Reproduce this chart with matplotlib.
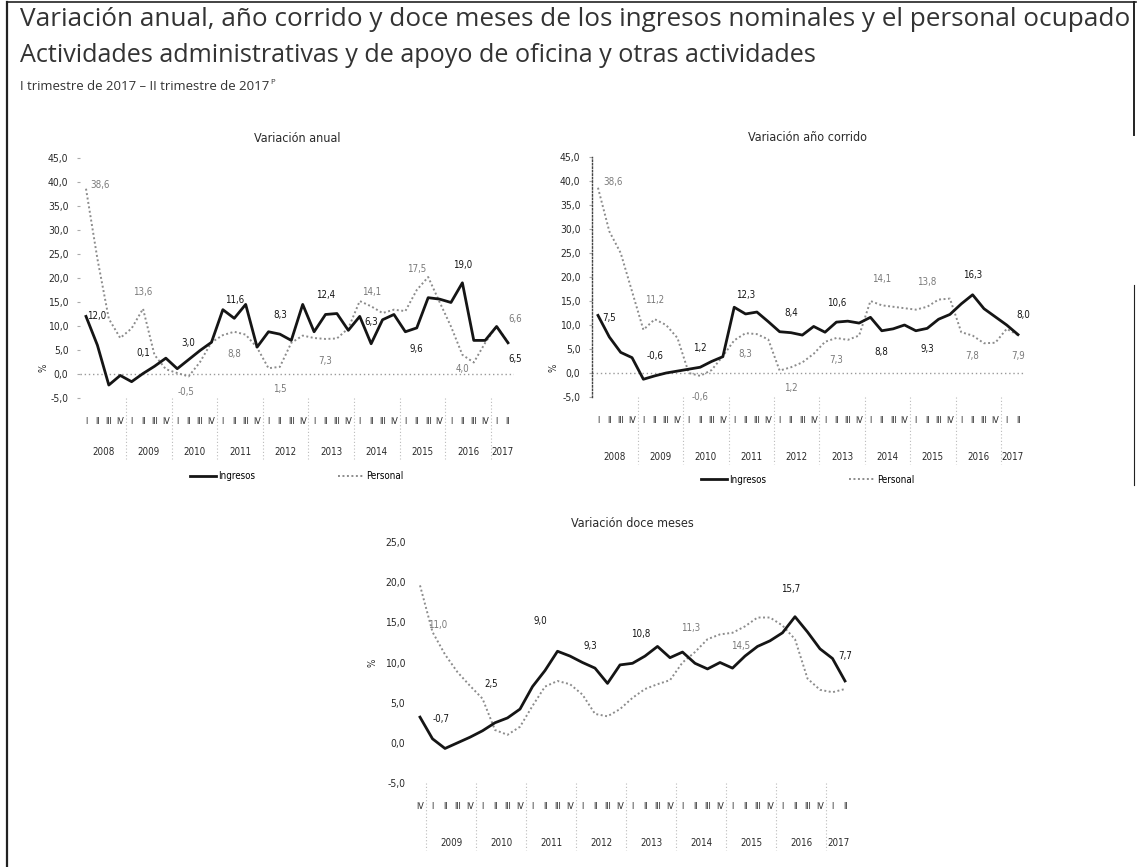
import matplotlib
matplotlib.use('Agg')
import matplotlib.pyplot as plt
import matplotlib.transforms as mtransforms
from matplotlib import font_manager
from matplotlib.lines import Line2D

# ---------------- data ----------------
quarters_a = ['I', 'II', 'III', 'IV'] * 9 + ['I', 'II']
years_a = ['2008', '2009', '2010', '2011', '2012', '2013', '2014', '2015', '2016', '2017']
year_counts_a = [4, 4, 4, 4, 4, 4, 4, 4, 4, 2]

ingresos_anual = [12.0, 6.0, -2.3, -0.3, -1.6, 0.1, 1.6, 3.3, 1.1, 3.0,
                  4.9, 6.6, 13.4, 11.6, 14.5, 5.6, 8.8, 8.3, 7.0, 14.5,
                  8.8, 12.4, 12.6, 9.1, 12.0, 6.3, 11.3, 12.4, 8.8, 9.6,
                  15.9, 15.6, 14.9, 19.0, 7.0, 7.0, 9.9, 6.5]
personal_anual = [38.6, 24.0, 11.5, 7.5, 9.5, 13.6, 4.0, 1.0, 0.2, -0.5,
                  2.5, 6.6, 8.1, 8.8, 8.2, 5.5, 1.2, 1.5, 6.5, 8.0,
                  7.5, 7.3, 7.4, 9.5, 15.2, 14.1, 12.7, 13.4, 13.1, 17.5,
                  20.2, 15.0, 9.9, 4.0, 2.4, 6.5, 10.0, 6.6]

ingresos_corrido = [12.0, 7.5, 4.3, 3.2, -1.3, -0.6, 0.0, 0.4, 0.8, 1.2,
                    2.4, 3.4, 13.7, 12.3, 12.7, 10.7, 8.6, 8.4, 7.9, 9.7,
                    8.5, 10.6, 10.8, 10.4, 11.6, 8.8, 9.2, 10.0, 8.8, 9.3,
                    11.2, 12.2, 14.4, 16.3, 13.4, 11.7, 10.0, 8.0]
personal_corrido = [38.6, 29.5, 25.0, 17.0, 9.0, 11.2, 10.0, 7.3, 0.0, -0.6,
                    0.6, 3.5, 6.8, 8.3, 8.1, 7.0, 0.5, 1.2, 2.2, 4.0,
                    6.5, 7.3, 6.9, 7.8, 15.0, 14.1, 13.8, 13.5, 13.2, 13.8,
                    15.3, 15.5, 8.5, 7.8, 6.2, 6.3, 9.2, 7.9]

quarters_d = ['IV'] + ['I', 'II', 'III', 'IV'] * 8 + ['I', 'II']
years_d = ['', '2009', '2010', '2011', '2012', '2013', '2014', '2015', '2016', '2017']
year_counts_d = [1, 4, 4, 4, 4, 4, 4, 4, 4, 2]

ingresos_doce = [3.2, 0.5, -0.7, 0.0, 0.7, 1.5, 2.5, 3.1, 4.2, 7.0,
                 9.0, 11.4, 10.8, 10.0, 9.3, 7.4, 9.7, 9.9, 10.8, 12.0,
                 10.6, 11.3, 9.9, 9.2, 10.0, 9.3, 10.8, 12.0, 12.7, 13.7,
                 15.7, 13.8, 11.7, 10.5, 7.7]
personal_doce = [19.6, 13.8, 11.0, 8.8, 7.1, 5.5, 1.6, 1.0, 2.0, 4.6,
                 7.0, 7.7, 7.3, 6.0, 3.6, 3.3, 4.2, 5.6, 6.7, 7.3,
                 7.8, 10.0, 11.3, 12.9, 13.5, 13.7, 14.5, 15.6, 15.6, 14.6,
                 12.9, 8.0, 6.6, 6.3, 6.7]

yticks_a = [-5, 0, 5, 10, 15, 20, 25, 30, 35, 40, 45]
yticks_d = [-5, 0, 5, 10, 15, 20, 25]

# data labels: (quarter index, text)
lab_ing_anual = [(0, '12,0'), (5, '0,1'), (9, '3,0'), (13, '11,6'), (17, '8,3'),
                 (21, '12,4'), (25, '6,3'), (29, '9,6'), (33, '19,0'), (37, '6,5')]
lab_per_anual = [(0, '38,6'), (5, '13,6'), (9, '-0,5'), (13, '8,8'), (17, '1,5'),
                 (21, '7,3'), (25, '14,1'), (29, '17,5'), (33, '4,0'), (37, '6,6')]
lab_ing_corrido = [(1, '7,5'), (5, '-0,6'), (9, '1,2'), (13, '12,3'), (17, '8,4'),
                   (21, '10,6'), (25, '8,8'), (29, '9,3'), (33, '16,3'), (37, '8,0')]
lab_per_corrido = [(0, '38,6'), (5, '11,2'), (9, '-0,6'), (13, '8,3'), (17, '1,2'),
                   (21, '7,3'), (25, '14,1'), (29, '13,8'), (33, '7,8'), (37, '7,9')]
lab_ing_doce = [(2, '-0,7'), (6, '2,5'), (10, '9,0'), (14, '9,3'), (18, '10,8'),
                (30, '15,7'), (34, '7,7')]
lab_per_doce = [(2, '11,0'), (22, '11,3'), (26, '14,5')]

# label offsets in points (style, not data)
off_ing_anual = [(8, 0), (0, 15), (0, 12), (0, 13), (0, 14), (0, 14), (0, 16), (0, -15), (0, 13), (5, -12)]
off_per_anual = [(10, 3), (0, 12), (-2, -11), (0, -16), (0, -16), (0, -16), (0, 10), (0, 15), (0, -10), (5, 17)]
off_ing_corrido = [(0, 14), (0, 14), (0, 14), (0, 14), (0, 14), (0, 14), (0, -15), (0, -15), (0, 14), (4, 14)]
off_per_corrido = [(11, 4), (0, 14), (0, -15), (0, -15), (0, -15), (0, -16), (0, 19), (0, 18), (0, -15), (0, -15)]
off_ing_doce = [(-3, 21), (-3, 28), (-3, 36), (-3, 16), (-3, 16), (-3, 20), (0, 18)]
off_per_doce = [(-5, 21), (-3, 17), (-3, -14)]

# ---------------- style ----------------
W, H = 1139, 867
fig = plt.figure(figsize=(W / 100, H / 100), dpi=100)
fig.patch.set_facecolor('white')

names = {f.name for f in font_manager.fontManager.ttflist}
NARROW = 'Liberation Sans Narrow' if 'Liberation Sans Narrow' in names else 'DejaVu Sans'
STRETCH = 'normal' if NARROW == 'Liberation Sans Narrow' else 'condensed'
TITLE_FONT = 'Open Sans' if 'Open Sans' in names else 'DejaVu Sans'
BLACK = '#151515'
GRAY = '#8c8c8c'
TXT = '#2a2a2a'
NF = dict(family=NARROW, stretch=STRETCH)


def px_axes(left, top, right, bottom):
    return fig.add_axes([left / W, 1 - bottom / H, (right - left) / W, (bottom - top) / H])


def fmt(v):
    return ('%.1f' % v).replace('.', ',')


renderer = fig.canvas.get_renderer()


def fit_text(x, y, s, target_w, **kw):
    t = fig.text(x / W, 1 - y / H, s, va='center', ha='left', **kw)
    bb = t.get_window_extent(renderer)
    t.set_fontsize(t.get_fontsize() * target_w / bb.width)
    return t


# titles
fit_text(20, 19, 'Variación anual, año corrido y doce meses de los ingresos nominales y el personal ocupado',
         1108, family=TITLE_FONT, color='#333333', fontsize=16)
fit_text(20, 56, 'Actividades administrativas y de apoyo de oficina y otras actividades',
         800, family=TITLE_FONT, color='#333333', fontsize=16)
t3 = fit_text(20, 87, 'I trimestre de 2017 – II trimestre de 2017', 252,
              family=TITLE_FONT, color='#333333', fontsize=9)
bb3 = t3.get_window_extent(renderer)
fig.text(bb3.x1 / W + 1 / W, 1 - 82 / H, 'P', family=TITLE_FONT, color='#333333',
         fontsize=t3.get_fontsize() * 0.6, va='center', ha='left')

# border
for xs, ys, lw in [([7, 7], [2, 867], 1.6), ([7, 1136], [2, 2], 1.2),
                   ([1134, 1134], [2, 135], 1.4), ([1134, 1134], [285, 485], 0.8)]:
    fig.add_artist(Line2D([v / W for v in xs], [1 - v / H for v in ys], color='#222222', lw=lw))


def draw(ax, ing, per, qlabels, years, counts, yticks, labs, offs, year_y,
         zero_line, left_spine, pct_xy, title, title_y, legend_y):
    n = len(ing)
    x = list(range(n))
    ax.plot(x, per, color=GRAY, ls=(0, (1, 1.3)), lw=1.4, zorder=2, solid_capstyle='round')
    ax.plot(x, ing, color=BLACK, lw=2.0, zorder=3, solid_joinstyle='round')
    ax.set_xlim(-0.5, n - 0.5)
    ax.set_ylim(yticks[0], yticks[-1])
    ax.set_yticks(yticks)
    ax.set_yticklabels([fmt(v) for v in yticks], fontsize=7.5, color=TXT, **NF)
    ax.set_xticks(x)
    ax.set_xticklabels(qlabels, fontsize=6.5, color=TXT, **NF)
    ax.tick_params(axis='x', length=0, pad=14)
    for s in ['top', 'right', 'bottom', 'left']:
        ax.spines[s].set_visible(False)
    if left_spine:
        ax.spines['left'].set_visible(True)
        ax.spines['left'].set_linestyle((0, (1, 1.5)))
        ax.spines['left'].set_color('#444444')
        ax.spines['left'].set_linewidth(1.0)
    ax.tick_params(axis='y', length=2.5 if zero_line else 0, color='#aaaaaa', pad=6)
    if zero_line:
        ax.axhline(0, color='#9a9a9a', ls=(0, (1, 2)), lw=1.0, zorder=1)
    blend = mtransforms.blended_transform_factory(ax.transData, ax.transAxes)
    start = 0
    for yr, c in zip(years, counts):
        if yr:
            ax.text(start + (c - 1) / 2, year_y, yr, transform=blend, ha='center', va='center',
                    fontsize=7, color=TXT, **NF)
        if start > 0:
            ax.plot([start - 0.5, start - 0.5], [0, year_y - 0.03], transform=blend, clip_on=False,
                    color='#bbbbbb', ls=(0, (1, 2)), lw=0.8)
        start += c
    for (series, color), lab, off in zip([(ing, BLACK), (per, '#7a7a7a')], labs, offs):
        for (i, txt), (dx, dy) in zip(lab, off):
            ax.annotate(txt, (i, series[i]), xytext=(dx, dy), textcoords='offset points',
                        ha='center', va='center', fontsize=7, color=color, zorder=4, **NF)
    ax.text(pct_xy[0], pct_xy[1], '%', transform=ax.transAxes, rotation=90, ha='center', va='center',
            fontsize=7, color=TXT, **NF)
    ax.text(0.5, title_y, title, transform=ax.transAxes, ha='center', va='center',
            fontsize=9, color=TXT, **NF)
    if legend_y is not None:
        h = [Line2D([], [], color=BLACK, lw=2.0), Line2D([], [], color=GRAY, ls=(0, (1, 1.3)), lw=1.4)]
        ax.legend(h, ['Ingresos', 'Personal'], loc='center', bbox_to_anchor=(0.5, legend_y), ncol=2,
                  frameon=False, handlelength=2.6, columnspacing=8.5, handletextpad=0.3,
                  prop={'family': NARROW, 'stretch': STRETCH, 'size': 7})


ax1 = px_axes(80.3, 158, 513.7, 398)
draw(ax1, ingresos_anual, personal_anual, quarters_a, years_a, year_counts_a, yticks_a,
     [lab_ing_anual, lab_per_anual], [off_ing_anual, off_per_anual], -0.225,
     True, False, (-0.085, 0.125), 'Variación anual', 1.083, -0.325)

ax2 = px_axes(592.3, 157, 1023.7, 397)
draw(ax2, ingresos_corrido, personal_corrido, quarters_a, years_a, year_counts_a, yticks_a,
     [lab_ing_corrido, lab_per_corrido], [off_ing_corrido, off_per_corrido], -0.25,
     True, True, (-0.09, 0.12), 'Variación año corrido', 1.08, -0.345)

ax3 = px_axes(413.75, 542, 851.25, 783)
draw(ax3, ingresos_doce, personal_doce, quarters_d, years_d, year_counts_d, yticks_d,
     [lab_ing_doce, lab_per_doce], [off_ing_doce, off_per_doce], -0.249,
     False, False, (-0.094, 0.498), 'Variación doce meses', 1.075, None)

fig.savefig('out.png', dpi=100, facecolor='white')
